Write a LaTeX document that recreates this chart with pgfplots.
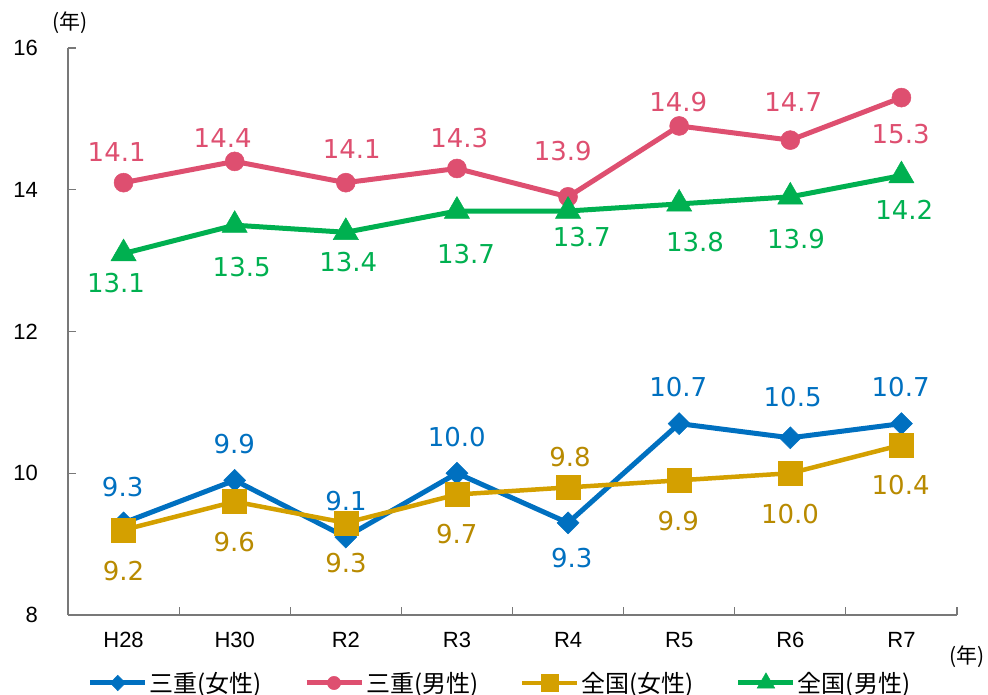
\documentclass[border=0pt]{standalone}
\usepackage{fontspec}
\setmainfont{Liberation Sans}
\newfontfamily\jp{Noto Sans CJK JP}
\newfontfamily\lab{DejaVu Sans}
\usepackage{pgfplots}
\pgfplotsset{compat=1.18}
\definecolor{cblue}{RGB}{0,112,192}
\definecolor{cpink}{RGB}{222,79,112}
\definecolor{cgold}{RGB}{212,160,0}
\definecolor{cgoldt}{RGB}{184,138,0}
\definecolor{cgreen}{RGB}{0,176,80}
\definecolor{cax}{RGB}{120,120,120}
\begin{document}
\begin{tikzpicture}
\useasboundingbox (0pt,0pt) rectangle (988pt,695pt);
\begin{axis}[
  at={(68pt,80pt)}, anchor=south west,
  scale only axis, width=889pt, height=567pt,
  xmin=-0.5, xmax=7.5, ymin=8, ymax=16,
  clip=false,
  axis x line*=bottom, axis y line*=left,
  axis line style={cax, line width=1.2pt, -},
  tick align=inside, major tick length=0pt, minor tick length=8pt,
  tick style={cax, line width=1.2pt},
  ytick={8,10,12,14,16},
  minor ytick={8,10,12,14,16},
  xtick={0,1,2,3,4,5,6,7},
  xticklabels={H28,H30,R2,R3,R4,R5,R6,R7},
  minor xtick={-0.5,0.5,1.5,2.5,3.5,4.5,5.5,6.5,7.5},
  /pgf/number format/assume math mode=true,
  tick label style={font=\fontsize{22}{26}\selectfont},
  yticklabel style={anchor=east, inner sep=0pt, xshift=-30pt},
  xticklabel style={anchor=center, inner sep=0pt, yshift=-25pt},
  legend columns=4,
  legend style={at={(axis description cs:0.5,0)}, anchor=center, yshift=-68pt, xshift=-12.5pt,
    draw=none, fill=none, font=\jp\fontsize{24}{28}\selectfont,
    nodes={inner sep=2pt},
    /tikz/every even column/.append style={column sep=40pt}},
  legend image code/.code={\draw[mark repeat=2,mark phase=2,#1,every mark/.append style={scale=0.7}] plot coordinates {(0pt,0pt)(27.5pt,0pt)(55pt,0pt)};},
]
\addplot[cblue, line width=5pt, mark=diamond*, mark size=11pt,
  mark options={solid, line width=0.5pt, fill=cblue, xscale=1.33}]
  coordinates {(0,9.3)(1,9.9)(2,9.1)(3,10.0)(4,9.3)(5,10.7)(6,10.5)(7,10.7)};
\addlegendentry{三重(女性)}
\addplot[cpink, line width=5pt, mark=*, mark size=9.5pt,
  mark options={solid, line width=0.5pt, fill=cpink}]
  coordinates {(0,14.1)(1,14.4)(2,14.1)(3,14.3)(4,13.9)(5,14.9)(6,14.7)(7,15.3)};
\addlegendentry{三重(男性)}
\addplot[cgold, line width=4.5pt, mark=square*, mark size=12pt,
  mark options={solid, line width=0.5pt, fill=cgold}]
  coordinates {(0,9.2)(1,9.6)(2,9.3)(3,9.7)(4,9.8)(5,9.9)(6,10.0)(7,10.4)};
\addlegendentry{全国(女性)}
\addplot[cgreen, line width=5pt, mark=triangle*, mark size=14.5pt,
  mark options={solid, line width=0.5pt, fill=cgreen}]
  coordinates {(0,13.1)(1,13.5)(2,13.4)(3,13.7)(4,13.7)(5,13.8)(6,13.9)(7,14.2)};
\addlegendentry{全国(男性)}
% data labels
\addplot[draw=none, mark=none, forget plot, nodes near coords, point meta=explicit symbolic,
  nodes near coords style={font=\lab\fontsize{26}{31}\selectfont, text=cblue, anchor=center, inner sep=0pt}]
  table[meta=l] {
x y l
-0.008 9.810 9.3
0.997 10.408 9.9
2.002 9.613 9.1
2.998 10.516 10.0
4.033 8.800 9.3
4.992 11.221 10.7
6.021 11.080 10.5
6.993 11.221 10.7
};
\addplot[draw=none, mark=none, forget plot, nodes near coords, point meta=explicit symbolic,
  nodes near coords style={font=\lab\fontsize{26}{31}\selectfont, text=cpink, anchor=center, inner sep=0pt}]
  table[meta=l] {
x y l
-0.062 14.537 14.1
0.892 14.726 14.4
2.053 14.571 14.1
3.021 14.726 14.3
3.952 14.551 13.9
4.992 15.234 14.9
6.027 15.234 14.7
6.993 14.782 15.3
};
\addplot[draw=none, mark=none, forget plot, nodes near coords, point meta=explicit symbolic,
  nodes near coords style={font=\lab\fontsize{26}{31}\selectfont, text=cgoldt, anchor=center, inner sep=0pt}]
  table[meta=l] {
x y l
0.000 8.625 9.2
0.997 9.025 9.6
2.002 8.729 9.3
2.998 9.143 9.7
4.017 10.225 9.8
4.992 9.330 9.9
5.997 9.425 10.0
6.993 9.834 10.4
};
\addplot[draw=none, mark=none, forget plot, nodes near coords, point meta=explicit symbolic,
  nodes near coords style={font=\lab\fontsize{26}{31}\selectfont, text=cgreen, anchor=center, inner sep=0pt}]
  table[meta=l] {
x y l
-0.068 12.689 13.1
1.063 12.914 13.5
2.022 12.985 13.4
3.082 13.093 13.7
4.123 13.338 13.7
5.142 13.267 13.8
6.051 13.301 13.9
7.026 13.714 14.2
};
\end{axis}
\node[font=\jp\fontsize{21}{25}\selectfont, inner sep=0pt] at (70pt,672pt) {(年)};
\node[font=\jp\fontsize{21}{25}\selectfont, inner sep=0pt] at (967pt,38pt) {(年)};
\end{tikzpicture}
\end{document}
